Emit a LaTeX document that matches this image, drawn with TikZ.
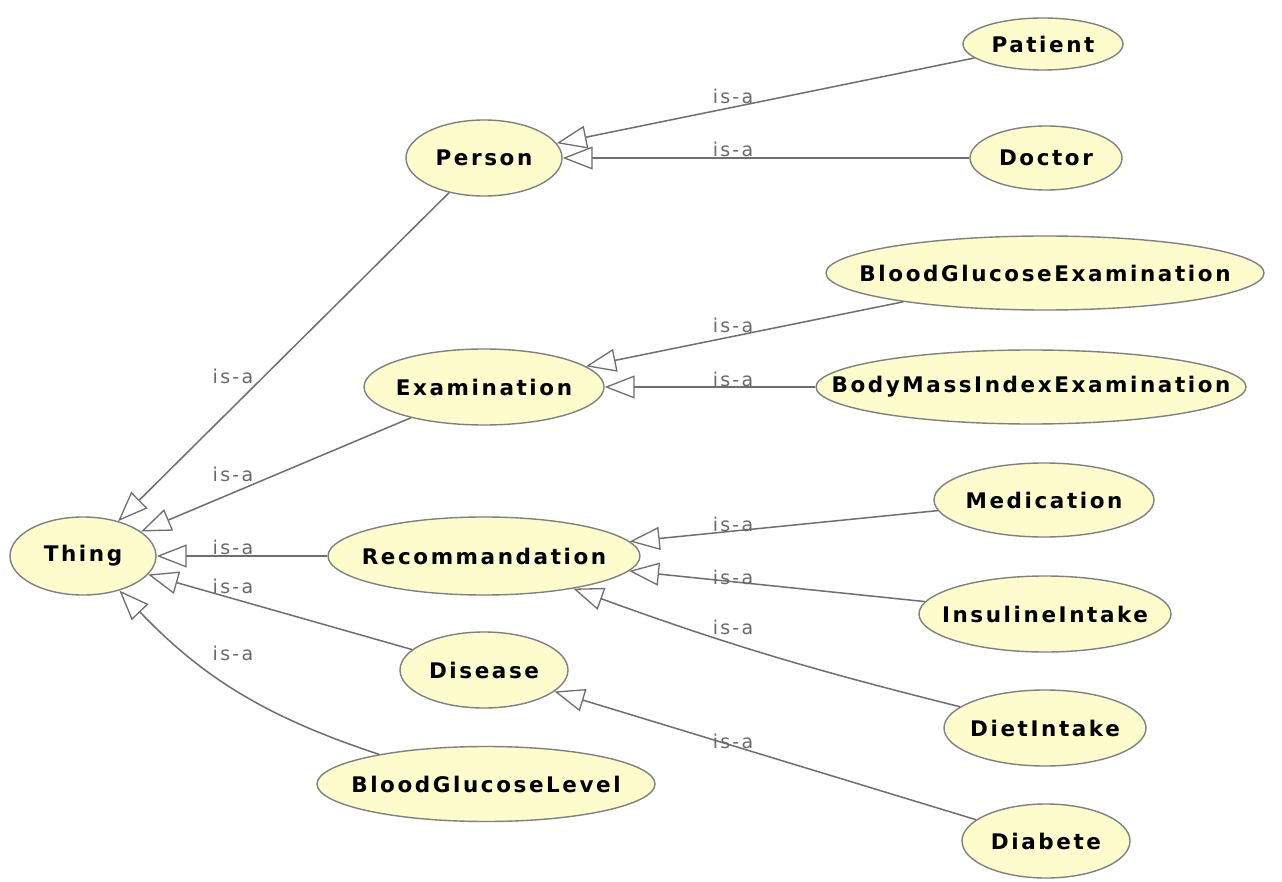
\documentclass[tikz,border=0pt]{standalone}
\usepackage{fontspec}
\usetikzlibrary{shapes.geometric,arrows.meta}
\newfontfamily\clsfont[LetterSpace=12]{DejaVu Sans Bold}
\newfontfamily\relfont[LetterSpace=12]{DejaVu Sans}
\definecolor{clsfill}{RGB}{252,252,204}
\definecolor{clsline}{RGB}{128,128,128}
\definecolor{edgegray}{RGB}{110,110,110}
\definecolor{labgray}{RGB}{105,105,105}
% class names are set in a zero-width box so the ellipse keeps its given size
\newcommand{\clsname}[1]{\makebox[0pt]{#1}}
\tikzset{
  cls/.style={ellipse, draw=clsline, line width=1.4pt, fill=clsfill, inner sep=0pt,
    font=\clsfont\fontsize{21.5}{24}\selectfont, text=black},
  isa/.style={draw=edgegray, line width=1.5pt,
    -{Triangle[open, length=30pt, width=23pt, line width=1.3pt, fill=white]}},
  isalabel/.style={anchor=base, inner sep=0pt, text=labgray,
    font=\relfont\fontsize{19}{22}\selectfont}
}
\begin{document}
\begin{tikzpicture}[x=1pt, y=-1pt]
\useasboundingbox[fill=white] (0,0) rectangle (1282,882);

% class nodes
\node[cls, minimum width=146pt, minimum height=78pt] (thing) at (83,556) {\clsname{Thing}};
\node[cls, minimum width=156pt, minimum height=76pt] (person) at (484,158) {\clsname{Person}};
\node[cls, minimum width=240pt, minimum height=76pt] (exam) at (484,387) {\clsname{Examination}};
\node[cls, minimum width=312pt, minimum height=78pt] (rec) at (484,556) {\clsname{Recommandation}};
\node[cls, minimum width=168pt, minimum height=76pt] (disease) at (484,670) {\clsname{Disease}};
\node[cls, minimum width=338pt, minimum height=75pt] (bgl) at (486,784) {\clsname{BloodGlucoseLevel}};

\node[cls, minimum width=160pt, minimum height=52pt] (patient) at (1043,44) {\clsname{Patient}};
\node[cls, minimum width=152pt, minimum height=64pt] (doctor) at (1046,158) {\clsname{Doctor}};
\node[cls, minimum width=438pt, minimum height=74pt] (bge) at (1045,273) {\clsname{BloodGlucoseExamination}};
\node[cls, minimum width=430pt, minimum height=74pt] (bmie) at (1031,387) {\clsname{BodyMassIndexExamination}};
\node[cls, minimum width=220pt, minimum height=74pt] (medication) at (1044,500) {\clsname{Medication}};
\node[cls, minimum width=252pt, minimum height=76pt] (insuline) at (1045,614) {\clsname{InsulineIntake}};
\node[cls, minimum width=202pt, minimum height=76pt] (diet) at (1045,728) {\clsname{DietIntake}};
\node[cls, minimum width=168pt, minimum height=74pt] (diabete) at (1046,841) {\clsname{Diabete}};

% subclass edges
\draw[isa] (person) -- (thing);
\draw[isa] (exam) -- (thing);
\draw[isa] (rec) -- (thing);
\draw[isa] (disease) -- (thing);
\draw[isa] (bgl) to[bend left=14] (thing);

\draw[isa] (patient) -- (person);
\draw[isa] (doctor) -- (person);
\draw[isa] (bge) -- (exam);
\draw[isa] (bmie) -- (exam);
\draw[isa] (medication) -- (rec);
\draw[isa] (insuline) -- (rec);
\draw[isa] (diet) to[bend left=3] (rec);
\draw[isa] (diabete) -- (disease);

% edge labels
\node[isalabel] (l1) at (233,383) {is-a};
\node[isalabel] (l2) at (233,481) {is-a};
\node[isalabel] (l3) at (233,554) {is-a};
\node[isalabel] (l4) at (233,593) {is-a};
\node[isalabel] (l5) at (233,660) {is-a};

\node[isalabel] (r1) at (733,104) {is-a};
\node[isalabel] (r2) at (733,157) {is-a};
\node[isalabel] (r3) at (733,333) {is-a};
\node[isalabel] (r4) at (733,386) {is-a};
\node[isalabel] (r5) at (733,531) {is-a};
\node[isalabel] (r6) at (733,584) {is-a};
\node[isalabel] (r7) at (733,634) {is-a};
\node[isalabel] (r8) at (733,748) {is-a};
\end{tikzpicture}
\end{document}
